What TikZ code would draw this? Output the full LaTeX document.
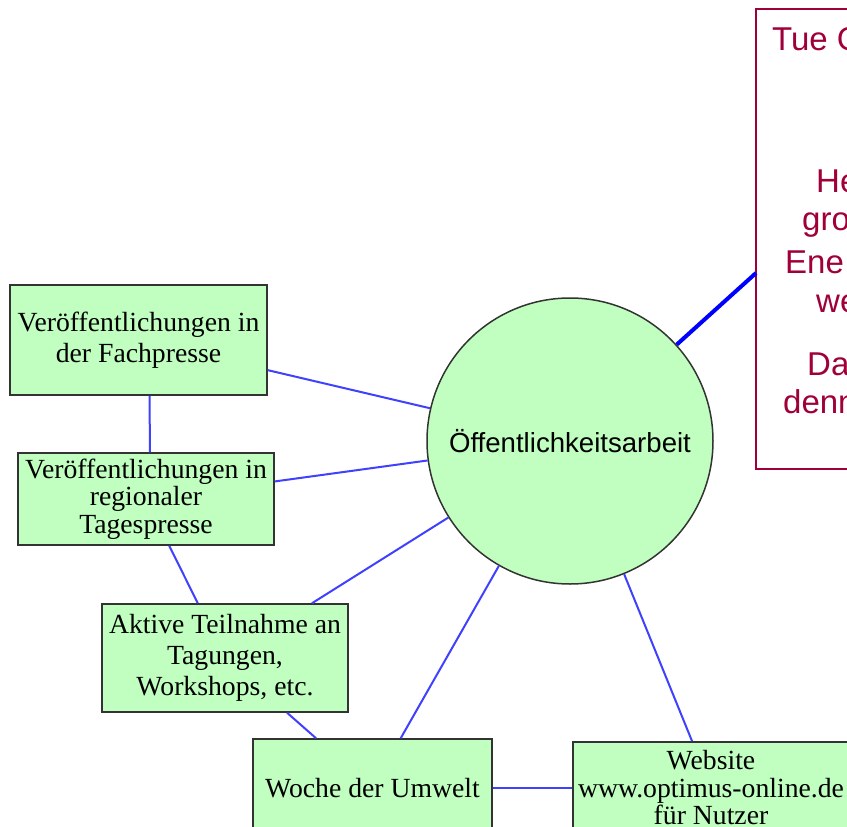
\documentclass[tikz,border=0pt]{standalone}
\usepackage{fontspec}
\setmainfont{Liberation Serif}
\newfontfamily\arialfont{Liberation Sans}
\usepackage{xcolor}
\usepackage{tikz}
\usetikzlibrary{positioning}
\definecolor{boxgreen}{RGB}{192,255,192}
\definecolor{boxline}{RGB}{51,51,51}
\definecolor{linkblue}{RGB}{64,64,255}
\definecolor{notered}{RGB}{160,0,58}

\begin{document}
\begin{tikzpicture}[x=1pt,y=-1pt,
  topic/.style={draw=boxline, fill=boxgreen, line width=1.5pt, rectangle, inner sep=0pt, align=center, font=\fontsize{27.7}{31}\selectfont},
  tight/.style={font=\fontsize{27.7}{27.5}\selectfont},
  hub/.style={draw=boxline, fill=boxgreen, line width=1.5pt, circle, inner sep=0pt, minimum size=286pt, font=\arialfont\fontsize{27.6}{31}\selectfont},
  link/.style={draw=linkblue, line width=2pt},
  notetext/.style={anchor=base west, text=notered, inner sep=0pt, font=\arialfont\fontsize{33}{40}\selectfont}]
\useasboundingbox (0,0) rectangle (847,827);
\clip (0,0) rectangle (847,827);
\fill[white] (0,0) rectangle (847,827);

\node[hub] (oeff) at (570,441) {Öffentlichkeitsarbeit};
\node[topic, minimum width=257pt, minimum height=110pt] (fach) at (138.5,340) {Veröffentlichungen in\\der Fachpresse};
\node[topic, tight, minimum width=256pt, minimum height=92pt] (tages) at (146,499) {Veröffentlichungen in\\regionaler\\Tagespresse};
\node[topic, minimum width=246pt, minimum height=108pt] (aktiv) at (225,658) {Aktive Teilnahme an\\Tagungen,\\Workshops, etc.};
\node[topic, minimum width=239pt, minimum height=98pt] (woche) at (372.5,788) {Woche der Umwelt};
\node[topic, tight, minimum width=276pt, minimum height=92pt] (web) at (711,788) {Website\\www.optimus-online.de\\für Nutzer};

\draw[notered, line width=1.5pt] (756,9) rectangle (900,469);
\coordinate (tip) at (756,273);
\node[notetext] (n1) at (772,50) {Tue G};
\node[notetext] (n2) at (816,192) {He};
\node[notetext] (n3) at (802,230) {gro};
\node[notetext] (n4) at (785,273) {Ene};
\node[notetext] (n5) at (816,312) {we};
\node[notetext] (n6) at (807,375) {Da};
\node[notetext] (n7) at (783,413) {denn};

\draw[link] (fach) -- (oeff);
\draw[link] ([xshift=11pt]fach.south) -- ([xshift=4pt]tages.north);
\draw[link] (tages) -- (oeff);
\draw[link] (tages) -- (aktiv);
\draw[link] (aktiv) -- (oeff);
\draw[link] (aktiv) -- (woche);
\draw[link] (oeff) -- (woche);
\draw[link] (oeff) -- (web);
\draw[link] (woche) -- (web);
\draw[draw=blue, line width=4pt] (oeff) -- (tip);
\end{tikzpicture}
\end{document}
